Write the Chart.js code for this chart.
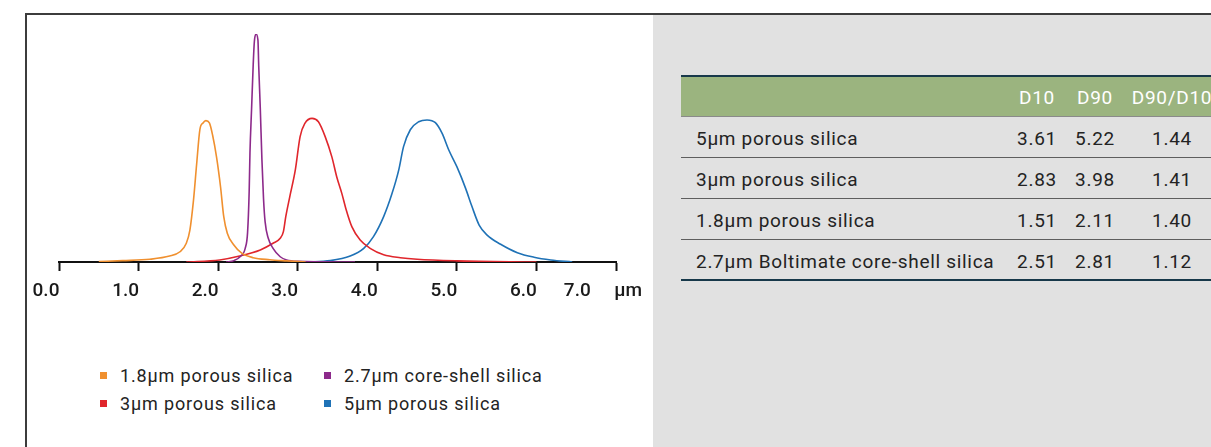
<!DOCTYPE html>
<html>
<head>
<meta charset="utf-8">
<script src="https://cdn.jsdelivr.net/npm/chart.js@4.4.1/dist/chart.umd.min.js"></script>
<style>
  html, body { margin: 0; padding: 0; }
  body { width: 1211px; height: 447px; overflow: hidden; position: relative; background: #fff; font-family: Roboto, sans-serif; color: #232323; }
  #frameTop { position: absolute; left: 25px; top: 13px; width: 1186px; height: 2px; background: #3c3c3c; }
  #frameLeft { position: absolute; left: 25px; top: 13px; width: 2px; height: 434px; background: #3c3c3c; }
  #panel { position: absolute; left: 653px; top: 15px; width: 558px; height: 432px; background: #e1e1e1; }
  #plot { position: absolute; left: 26px; top: 16px; width: 640px; height: 300px; }
  #legend { position: absolute; left: 100px; top: 362px; display: grid; grid-template-columns: 224px auto; font-size: 18px; letter-spacing: 0.85px; }
  .item { height: 28px; line-height: 28px; white-space: nowrap; }
  .sw { display: inline-block; width: 7px; height: 7px; margin-right: 13px; vertical-align: middle; position: relative; top: -2px; }
  #table { position: absolute; left: 681px; top: 75px; width: 540px; font-size: 19px; letter-spacing: 0.7px; }
  .row { display: flex; height: 40px; line-height: 43px; border-bottom: 1px solid #5e5e5e; }
  .row.head { background: #9bb47f; color: #fff; border-top: 2px solid #17384a; border-bottom: 1px solid #8a8a8a; height: 39px; line-height: 41px; }
  .row.last { border-bottom: 2px solid #17384a; height: 39px; }
  .c0 { width: 312px; padding-left: 15px; }
  .c1, .c2 { width: 58px; text-align: center; }
  .c3 { width: 96px; text-align: center; }
</style>
</head>
<body>
<div id="panel"></div>
<div id="frameTop"></div>
<div id="frameLeft"></div>
<div id="plot"><canvas id="chart"></canvas></div>
<div id="legend"></div>
<div id="table"></div>
<script>
// particle size (µm) vs relative volume
const orangeX = [0.5, 0.8, 1.14, 1.39, 1.52, 1.6, 1.645, 1.69, 1.73, 1.77, 1.81, 1.846, 1.89, 1.93, 1.98, 2.03, 2.07, 2.115, 2.19, 2.3, 2.44, 2.65, 2.86, 3.1];
const orangeY = [0.2, 0.6, 1.2, 2.6, 4.5, 8.2, 14, 27, 43, 58, 61, 62, 61, 55.7, 46, 33, 20, 12.6, 7.8, 3.8, 1.9, 1.0, 0.5, 0];

const purpleX = [2.1, 2.2, 2.275, 2.34, 2.37, 2.39, 2.40, 2.42, 2.44, 2.455, 2.476, 2.50, 2.51, 2.53, 2.55, 2.57, 2.59, 2.63, 2.69, 2.78, 2.86, 3.0, 3.72];
const purpleY = [0, 0.6, 2.3, 6, 13, 31, 48, 67, 86, 96.6, 100, 97.4, 86, 67, 45, 28, 17.7, 10.4, 6, 2.3, 0.9, 0.3, 0];

const redX = [1.6, 2.02, 2.27, 2.53, 2.69, 2.78, 2.82, 2.85, 2.9, 2.97, 3.03, 3.09, 3.18, 3.26, 3.345, 3.43, 3.49, 3.555, 3.61, 3.68, 3.785, 3.91, 4.08, 4.29, 4.5, 5.0, 6.0];
const redY = [0, 0.9, 2.6, 5.3, 8.2, 10.4, 13.3, 19.9, 28.6, 40.4, 55, 60.8, 63, 61.5, 55, 46, 37.4, 30, 22.8, 15.5, 9.6, 6, 3.2, 1.9, 1.2, 0.5, 0];

const blueX = [3.1, 3.41, 3.66, 3.83, 3.95, 4.08, 4.185, 4.27, 4.33, 4.415, 4.52, 4.625, 4.73, 4.815, 4.9, 5.0, 5.11, 5.19, 5.28, 5.38, 5.55, 5.76, 5.97, 6.18, 6.45];
const blueY = [0, 0.6, 2.6, 6, 11, 19.9, 30, 40.4, 50.6, 58, 61.5, 62.3, 61.1, 56.4, 49, 41.8, 32.3, 24.3, 16.2, 11.8, 7.8, 4.1, 2.1, 0.9, 0];

const seriesNames = ['1.8µm porous silica', '2.7µm core-shell silica', '3µm porous silica', '5µm porous silica'];
const seriesColors = ['#f0902f', '#8d2a8b', '#e0262c', '#1f72b6'];

const tickLabels = ['0.0', '1.0', '2.0', '3.0', '4.0', '5.0', '6.0', '7.0'];
const unitLabel = 'µm';

const tableHead = ['', 'D10', 'D90', 'D90/D10'];
const tableNames = ['5µm porous silica', '3µm porous silica', '1.8µm porous silica', '2.7µm Boltimate core-shell silica'];
const tableD10 = ['3.61', '2.83', '1.51', '2.51'];
const tableD90 = ['5.22', '3.98', '2.11', '2.81'];
const tableRatio = ['1.44', '1.41', '1.40', '1.12'];

const pairs = (xs, ys) => xs.map((x, i) => ({ x: x, y: ys[i] }));
const allX = [orangeX, purpleX, redX, blueX];
const allY = [orangeY, purpleY, redY, blueY];

const datasets = seriesNames.map((name, i) => ({
    label: name,
    data: pairs(allX[i], allY[i]),
    borderColor: seriesColors[i],
    borderWidth: 1.6,
    pointRadius: 0,
    fill: false,
    cubicInterpolationMode: 'monotone'
}));

new Chart(document.getElementById('chart').getContext('2d'), {
    type: 'line',
    data: { datasets: datasets },
    options: {
        responsive: true,
        maintainAspectRatio: false,
        animation: false,
        events: [],
        layout: { padding: { left: 33, right: 50, top: 18, bottom: 0 } },
        plugins: { legend: { display: false }, tooltip: { enabled: false } },
        scales: {
            x: {
                type: 'linear',
                min: 0,
                max: 7,
                afterFit: s => { s.height = 54; },
                border: { display: true, color: '#111', width: 2 },
                grid: { display: true, drawOnChartArea: false, drawTicks: true, tickLength: 9, tickWidth: 2, tickColor: '#111' },
                ticks: {
                    stepSize: 1,
                    autoSkip: false,
                    maxRotation: 0,
                    padding: 9,
                    labelOffset: -13,
                    color: '#1a1a1a',
                    font: { family: 'Roboto', size: 19, weight: '500' },
                    callback: (v, i) => i === tickLabels.length - 1 ? tickLabels[i] + '     ' + unitLabel : tickLabels[i]
                }
            },
            y: { display: false, min: 0, max: 100 }
        }
    }
});

// legend
const legend = document.getElementById('legend');
seriesNames.forEach((name, i) => {
    const d = document.createElement('div');
    d.className = 'item';
    d.innerHTML = '<span class="sw" style="background:' + seriesColors[i] + '"></span>' + name;
    legend.appendChild(d);
});

// table
const table = document.getElementById('table');
const addRow = (cells, cls) => {
    const r = document.createElement('div');
    r.className = 'row ' + cls;
    cells.forEach((c, j) => {
        const s = document.createElement('div');
        s.className = 'c' + j;
        s.textContent = c;
        r.appendChild(s);
    });
    table.appendChild(r);
};
addRow(tableHead, 'head');
tableNames.forEach((n, i) => addRow([n, tableD10[i], tableD90[i], tableRatio[i]], i === tableNames.length - 1 ? 'last' : ''));
</script>
</body>
</html>
